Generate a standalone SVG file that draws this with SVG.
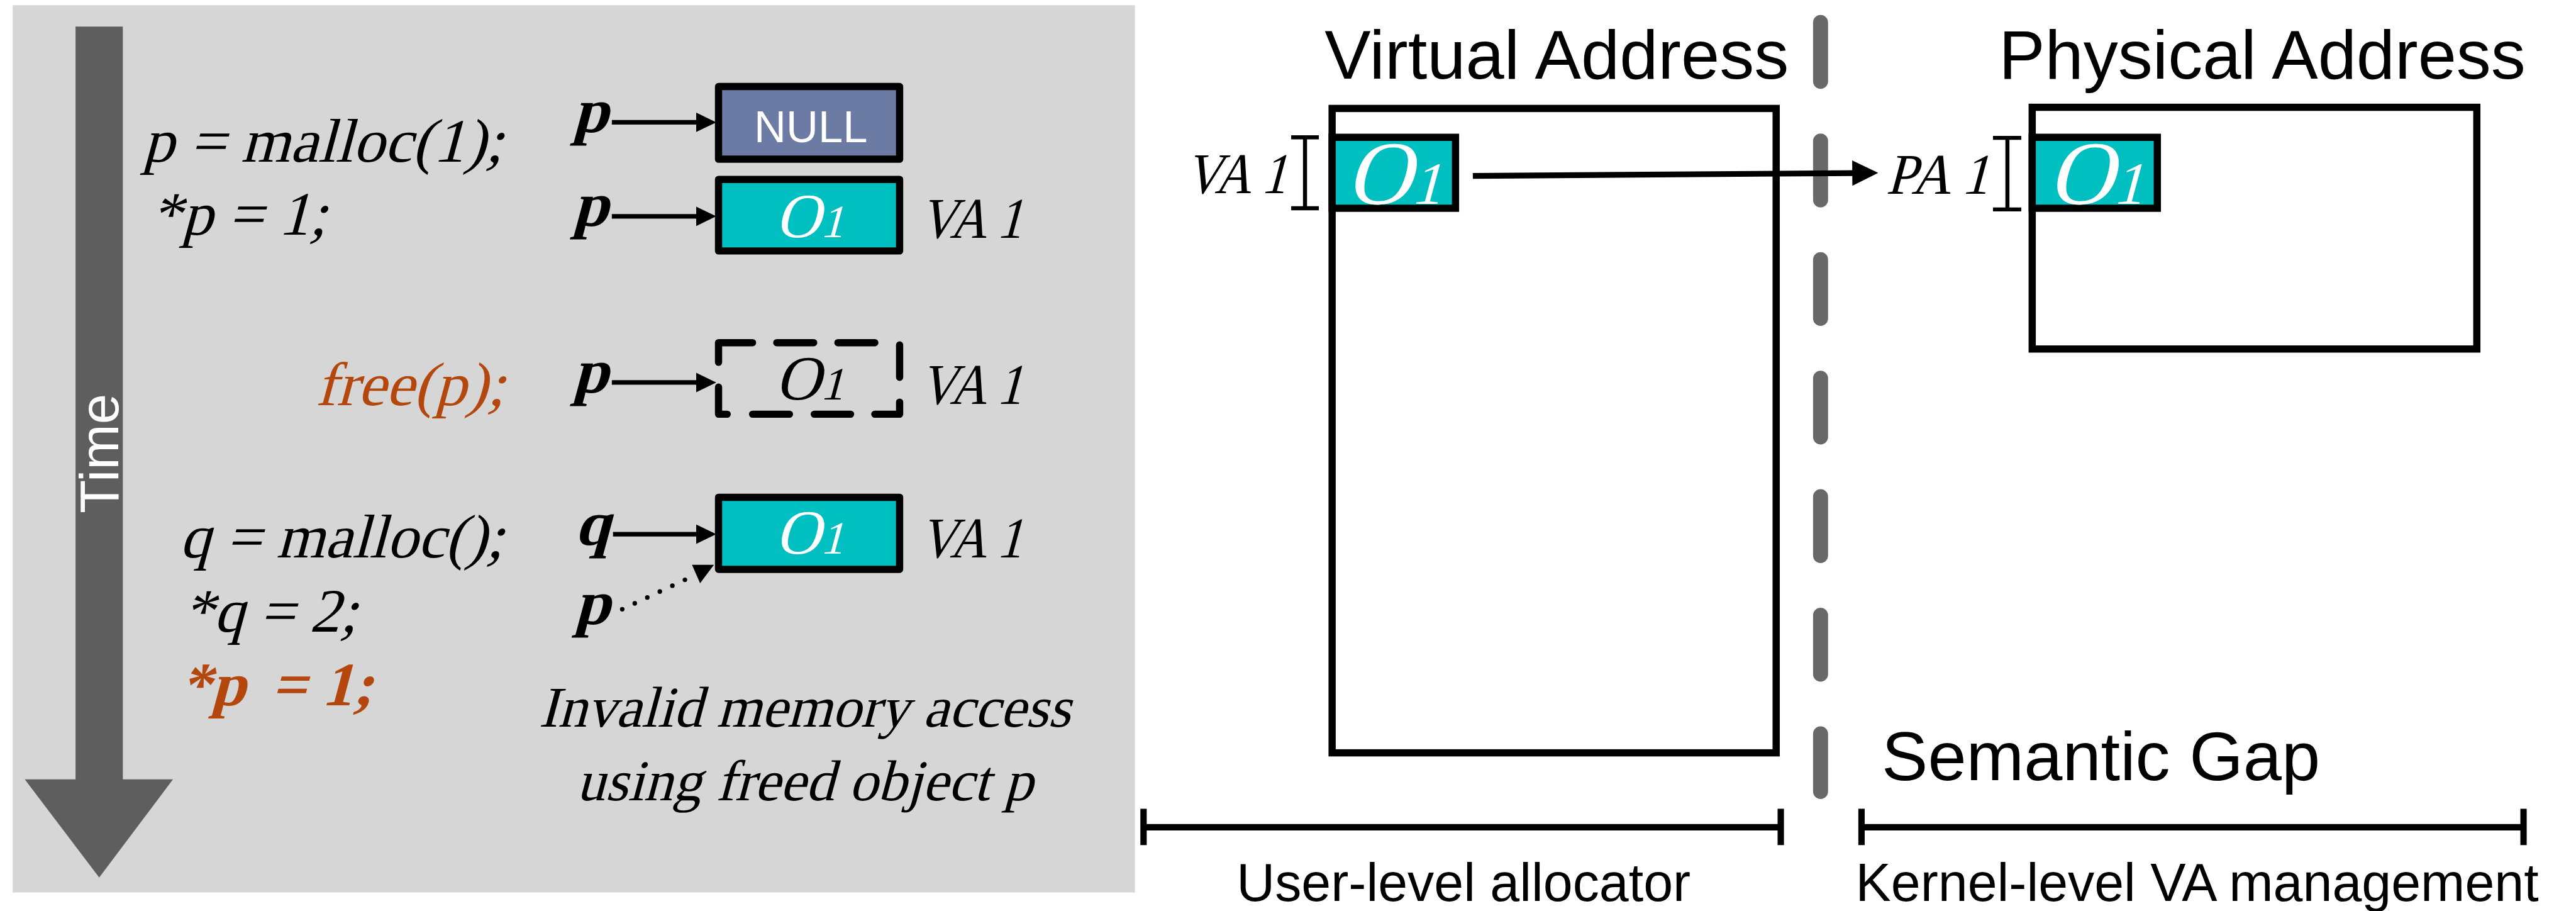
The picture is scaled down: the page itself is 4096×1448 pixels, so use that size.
<svg xmlns="http://www.w3.org/2000/svg" width="4096" height="1448" viewBox="0 0 4096 1448">
<defs>
<style>
.sf{font-family:"Liberation Serif","Times New Roman","DejaVu Serif",serif;font-style:normal}
.code{font-size:107px;fill:#000}
.ptr{font-weight:bold;font-size:110px;fill:#000}
.lab{font-size:100px;fill:#000}
.sans{font-family:"Liberation Sans",Arial,sans-serif;fill:#000}
.org{fill:#B4470D}
.obj{fill:#00BFC0;stroke:#000;stroke-width:12.5;stroke-linejoin:round}
.big{fill:#fff;stroke:#000;stroke-width:12.5}
.conn{stroke:#000;stroke-width:8;fill:none}
.brk{stroke:#000;stroke-width:11;fill:none}
.ib{stroke:#000;stroke-width:7;fill:none}
.ot{fill:#fff;text-anchor:middle}
</style>
<marker id="ah" viewBox="0 0 35 34" markerWidth="35" markerHeight="34" refX="8" refY="17" orient="auto" markerUnits="userSpaceOnUse"><path d="M0,0 L35,17 L0,34 z" fill="#000"/></marker>
<marker id="ahb" viewBox="0 0 45 44" markerWidth="45" markerHeight="44" refX="8" refY="22" orient="auto" markerUnits="userSpaceOnUse"><path d="M0,0 L45,22 L0,44 z" fill="#000"/></marker>
</defs>
<g transform="scale(0.91695)">
<rect id="panel" x="22" y="9" width="1946" height="1538" fill="#D6D6D6"/>
<g id="time-arrow">
<polygon points="131,46 213,46 213,1351 300,1351 172,1521 43,1351 131,1351" fill="#5E5E5E"/>
<text class="sans" transform="translate(205,890) rotate(-90)" font-size="95" style="fill:#fff">Time</text>
</g>
<g id="code">
<text class="sf code" transform="translate(247,280) skewX(-15)" textLength="625" lengthAdjust="spacingAndGlyphs">p = malloc(1);</text>
<text class="sf code" transform="translate(261,407) skewX(-15)" textLength="305" lengthAdjust="spacingAndGlyphs">*p = 1;</text>
<text class="sf code org" transform="translate(547,702) skewX(-15)" textLength="328" lengthAdjust="spacingAndGlyphs">free(p);</text>
<text class="sf code" transform="translate(311,966) skewX(-15)" textLength="562" lengthAdjust="spacingAndGlyphs">q = malloc();</text>
<text class="sf code" transform="translate(317,1095) skewX(-15)" textLength="302" lengthAdjust="spacingAndGlyphs">*q = 2;</text>
<text class="sf code org" transform="translate(312,1223) skewX(-15)" font-weight="bold">*p <tspan dx="18">= 1;</tspan></text>
</g>
<g id="ptr-labels">
<text class="sf ptr" transform="translate(993,229) skewX(-15)">p</text>
<text class="sf ptr" transform="translate(993,391) skewX(-15)">p</text>
<text class="sf ptr" transform="translate(993,681) skewX(-15)">p</text>
<text class="sf ptr" transform="translate(996,944) skewX(-15)">q</text>
<text class="sf ptr" transform="translate(996,1082) skewX(-15)">p</text>
</g>
<g id="null-box">
<rect x="1246" y="150" width="314" height="126" fill="#6B7BA4" stroke="#000" stroke-width="12.5" stroke-linejoin="round"/>
<text class="sans" x="1406" y="246" font-size="77" text-anchor="middle" style="fill:#fff">NULL</text>
</g>
<g id="obj-row2">
<rect class="obj" x="1246" y="311" width="314" height="124"/>
<text class="sf ot" transform="translate(1403,411) skewX(-15)" font-size="109">O<tspan font-size="80">1</tspan></text>
<text class="sf lab" transform="translate(1594,412) skewX(-15)" textLength="178" lengthAdjust="spacingAndGlyphs">VA 1</text>
</g>
<g id="obj-freed">
<path d="M1246,628 V594 H1305 M1347,594 H1411 M1453,594 H1517 M1560,598 V654 M1560,697 V718 H1517 M1475,718 H1412 M1369,718 H1305 M1261,718 H1246 V671" fill="none" stroke="#000" stroke-width="12.5" stroke-linecap="round" stroke-linejoin="round"/>
<text class="sf" transform="translate(1403,692) skewX(-15)" font-size="109" text-anchor="middle" fill="#000">O<tspan font-size="80">1</tspan></text>
<text class="sf lab" transform="translate(1594,700) skewX(-15)" textLength="178" lengthAdjust="spacingAndGlyphs">VA 1</text>
</g>
<g id="obj-row4">
<rect class="obj" x="1246" y="862" width="314" height="125"/>
<text class="sf ot" transform="translate(1403,960) skewX(-15)" font-size="109">O<tspan font-size="80">1</tspan></text>
<text class="sf lab" transform="translate(1594,966) skewX(-15)" textLength="178" lengthAdjust="spacingAndGlyphs">VA 1</text>
</g>
<g id="note">
<text class="sf lab" transform="translate(1395,1260) skewX(-15)" text-anchor="middle">Invalid memory access</text>
<text class="sf lab" transform="translate(1395,1387) skewX(-15)" text-anchor="middle">using freed object p</text>
</g>
<g id="virtual-address">
<text class="sans" x="2297" y="136" font-size="120">Virtual Address</text>
<rect class="big" x="2310" y="188" width="770" height="1117"/>
<rect class="obj" x="2310" y="238" width="214" height="123" style="stroke-linejoin:miter"/>
<text class="sf ot" transform="translate(2416,353) skewX(-15)" font-size="157">O<tspan font-size="104">1</tspan></text>
<text class="sf lab" transform="translate(2054,335) skewX(-15)" textLength="176" lengthAdjust="spacingAndGlyphs">VA 1</text>
<path class="ib" d="M2239,238 H2287 M2263,238 V361 M2239,361 H2287"/>
</g>
<g id="physical-address">
<text class="sans" x="3466" y="136" font-size="120">Physical Address</text>
<rect class="big" x="3524" y="186" width="771" height="419"/>
<rect class="obj" x="3524" y="238" width="217" height="123" style="stroke-linejoin:miter"/>
<text class="sf ot" transform="translate(3633,353) skewX(-15)" font-size="157">O<tspan font-size="104">1</tspan></text>
<text class="sf lab" transform="translate(3270,336) skewX(-15)" textLength="178" lengthAdjust="spacingAndGlyphs">PA 1</text>
<path class="ib" d="M3456,239 H3505 M3481,239 V363 M3456,363 H3505"/>
</g>
<g id="divider">
<path d="M3157,39 V1372" stroke="#686868" stroke-width="26" stroke-linecap="round" stroke-dasharray="102 103.5" fill="none"/>
</g>
<g id="semantic-gap">
<text class="sans" x="3263" y="1352" font-size="120">Semantic Gap</text>
</g>
<g id="user-level">
<path class="brk" d="M1983,1402 V1465 M1983,1434 H3088 M3088,1402 V1465"/>
<text class="sans" x="2538" y="1562" font-size="92" text-anchor="middle">User-level allocator</text>
</g>
<g id="kernel-level">
<path class="brk" d="M3228,1402 V1465 M3228,1434 H4376 M4376,1402 V1465"/>
<text class="sans" x="3810" y="1562" font-size="92" text-anchor="middle">Kernel-level VA management</text>
</g>
<g id="connectors">
<line class="conn" x1="1061" y1="212" x2="1215" y2="212" marker-end="url(#ah)"/>
<line class="conn" x1="1061" y1="375" x2="1215" y2="375" marker-end="url(#ah)"/>
<line class="conn" x1="1061" y1="663" x2="1215" y2="663" marker-end="url(#ah)"/>
<line class="conn" x1="1063" y1="926" x2="1215" y2="926" marker-end="url(#ah)"/>
<line x1="1079" y1="1056" x2="1190" y2="1004" stroke="#000" stroke-width="8" stroke-linecap="round" stroke-dasharray="0 24"/>
<polygon points="1200,979 1238,979 1214,1011" fill="#000"/>
<line x1="2554" y1="305" x2="3220" y2="300" stroke="#000" stroke-width="10" marker-end="url(#ahb)"/>
</g>
</g>
</svg>
